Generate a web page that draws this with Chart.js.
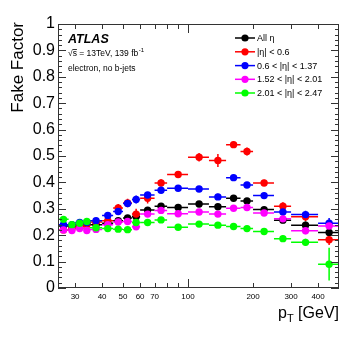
<!DOCTYPE html>
<html lang="en">
<head>
<meta charset="UTF-8">
<title>Fake Factor vs pT</title>
<script src="https://cdn.jsdelivr.net/npm/chart.js"></script>
<style>
  body { margin: 0; background: #fff; }
  #wrap { width: 357px; height: 343px; }
</style>
</head>
<body>
<div id="wrap"><canvas id="ffChart" width="357" height="343"></canvas></div>
<script>
// pT bins [GeV]
const ptCenters = [26.5, 29, 31.5, 34, 37.5, 42.5, 47.5, 52.5, 57.5, 65, 75, 90, 112.5, 137.5, 162.5, 187.5, 225, 275, 350, 450];
const ptLow  = [25, 28, 30, 33, 35, 40, 45, 50, 55, 60, 70, 80, 100, 125, 150, 175, 200, 250, 300, 400];
const ptHigh = [28, 30, 33, 35, 40, 45, 50, 55, 60, 70, 80, 100, 125, 150, 175, 200, 250, 300, 400, 500];

// fake factor per eta region
const ffAll    = [0.235, 0.235, 0.240, 0.243, 0.240, 0.245, 0.255, 0.265, 0.270, 0.295, 0.310, 0.305, 0.318, 0.308, 0.340, 0.330, 0.297, 0.257, 0.238, 0.210];
const ffEta06  = [0.220, 0.225, 0.232, 0.240, 0.250, 0.255, 0.303, 0.322, 0.280, 0.340, 0.398, 0.430, 0.495, 0.483, 0.543, 0.517, 0.398, 0.310, 0.270, 0.183];
const ffEta137 = [0.240, 0.240, 0.248, 0.248, 0.255, 0.275, 0.290, 0.320, 0.335, 0.352, 0.370, 0.378, 0.375, 0.345, 0.418, 0.390, 0.350, 0.288, 0.278, 0.245];
const ffEta201 = [0.220, 0.218, 0.225, 0.218, 0.222, 0.240, 0.250, 0.252, 0.232, 0.280, 0.294, 0.281, 0.288, 0.280, 0.302, 0.305, 0.284, 0.262, 0.217, 0.235];
const ffEta247 = [0.260, 0.240, 0.245, 0.252, 0.228, 0.225, 0.223, 0.221, 0.248, 0.248, 0.258, 0.230, 0.242, 0.238, 0.233, 0.225, 0.214, 0.187, 0.173, 0.090];

// statistical uncertainties
const errAll    = [0.004, 0.004, 0.004, 0.004, 0.004, 0.005, 0.005, 0.006, 0.006, 0.006, 0.006, 0.006, 0.007, 0.008, 0.008, 0.009, 0.009, 0.012, 0.014, 0.020];
const errEta06  = [0.008, 0.008, 0.009, 0.009, 0.010, 0.012, 0.015, 0.016, 0.020, 0.020, 0.014, 0.013, 0.016, 0.025, 0.012, 0.015, 0.012, 0.015, 0.016, 0.020];
const errEta137 = [0.006, 0.006, 0.007, 0.007, 0.008, 0.009, 0.010, 0.012, 0.015, 0.012, 0.010, 0.010, 0.010, 0.012, 0.010, 0.011, 0.011, 0.013, 0.015, 0.020];
const errEta201 = [0.005, 0.005, 0.005, 0.005, 0.006, 0.006, 0.007, 0.007, 0.008, 0.008, 0.008, 0.008, 0.008, 0.009, 0.009, 0.010, 0.010, 0.012, 0.013, 0.018];
const errEta247 = [0.006, 0.006, 0.006, 0.006, 0.006, 0.006, 0.007, 0.007, 0.008, 0.008, 0.008, 0.008, 0.008, 0.009, 0.009, 0.010, 0.010, 0.012, 0.014, 0.062];

const seriesNames  = ['All \u03b7', '|\u03b7| < 0.6', '0.6 < |\u03b7| < 1.37', '1.52 < |\u03b7| < 2.01', '2.01 < |\u03b7| < 2.47'];
const seriesColors = ['#000000', '#ff0000', '#0000ff', '#ff00ff', '#00ff00'];
const seriesValues = [ffAll, ffEta06, ffEta137, ffEta201, ffEta247];
const seriesErrors = [errAll, errEta06, errEta137, errEta201, errEta247];

const xTickLabels = [30, 40, 50, 60, 70, 100, 200, 300, 400];
const xTickMarks  = [30, 40, 50, 60, 70, 80, 90, 100, 200, 300, 400];
const yTickLabels = [0, 0.1, 0.2, 0.3, 0.4, 0.5, 0.6, 0.7, 0.8, 0.9, 1];

const FONT = "'Liberation Sans', Arial, sans-serif";

const datasets = seriesValues.map((vals, i) => ({
  label: seriesNames[i],
  data: vals.map((v, k) => ({ x: ptCenters[k], y: v })),
  errs: seriesErrors[i],
  borderColor: seriesColors[i],
  backgroundColor: seriesColors[i],
  pointRadius: 3.7,
  pointBorderWidth: 0,
  showLine: false,
  order: seriesValues.length - i
}));

// error bars, drawn under the markers
const errorBars = {
  id: 'errorBars',
  beforeDatasetsDraw(chart) {
    const { ctx, scales: { x, y } } = chart;
    ctx.save();
    ctx.lineWidth = 1.5;
    chart.data.datasets.forEach(ds => {
      ctx.strokeStyle = ds.borderColor;
      ds.data.forEach((p, k) => {
        const py = y.getPixelForValue(p.y);
        const px = x.getPixelForValue(p.x);
        ctx.beginPath();
        ctx.moveTo(x.getPixelForValue(ptLow[k]), py);
        ctx.lineTo(x.getPixelForValue(ptHigh[k]), py);
        ctx.moveTo(px, y.getPixelForValue(p.y - ds.errs[k]));
        ctx.lineTo(px, y.getPixelForValue(p.y + ds.errs[k]));
        ctx.stroke();
      });
    });
    ctx.restore();
  }
};

// ROOT-like frame with inward ticks, texts and legend
const decorations = {
  id: 'decorations',
  afterDraw(chart) {
    const { ctx, chartArea: a, scales: { x, y } } = chart;
    ctx.save();
    ctx.strokeStyle = '#333';
    ctx.lineWidth = 1;
    ctx.strokeRect(a.left + 0.5, a.top + 0.5, a.right - a.left - 1, a.bottom - a.top - 1);

    const seg = (x1, y1, x2, y2) => { ctx.beginPath(); ctx.moveTo(x1, y1); ctx.lineTo(x2, y2); ctx.stroke(); };
    for (let k = 0; k <= 50; k++) {
      const py = Math.round(y.getPixelForValue(k * 0.02)) + 0.5;
      const len = k % 5 === 0 ? 8 : 4;
      seg(a.left, py, a.left + len, py);
      seg(a.right, py, a.right - len, py);
    }
    xTickMarks.forEach(v => {
      const px = Math.round(x.getPixelForValue(v)) + 0.5;
      const len = v === 100 ? 9 : 5;
      seg(px, a.bottom, px, a.bottom - len);
      seg(px, a.top, px, a.top + len);
    });

    ctx.fillStyle = '#000';
    // y title
    ctx.save();
    ctx.translate(23, a.top - 2);
    ctx.rotate(-Math.PI / 2);
    ctx.font = '17px ' + FONT;
    ctx.textAlign = 'right';
    ctx.fillText('Fake Factor', 0, 0);
    ctx.restore();

    // x title p_T [GeV]
    ctx.textAlign = 'left';
    ctx.font = '16px ' + FONT;
    const rest = ' [GeV]';
    const wRest = ctx.measureText(rest).width;
    ctx.font = '11px ' + FONT;
    const wT = ctx.measureText('T').width;
    ctx.font = '16px ' + FONT;
    const wP = ctx.measureText('p').width;
    let tx = a.right - wRest - wT - wP;
    ctx.fillText('p', tx, 318);
    ctx.font = '11px ' + FONT;
    ctx.fillText('T', tx + wP, 322);
    ctx.font = '16px ' + FONT;
    ctx.fillText(rest, tx + wP + wT, 318);

    // ATLAS label
    ctx.font = 'italic bold 12.5px ' + FONT;
    ctx.fillText('ATLAS', 68, 43);
    ctx.font = '8.5px ' + FONT;
    ctx.fillText('\u221a', 68, 56);
    const wSq = ctx.measureText('\u221a').width;
    const wS = ctx.measureText('s').width;
    seg(68 + wSq, 49.5, 68 + wSq + wS, 49.5);
    const line1 = 's = 13TeV, 139 fb';
    ctx.fillText(line1, 68 + wSq, 56);
    const w1 = ctx.measureText(line1).width;
    ctx.font = '6px ' + FONT;
    ctx.fillText('-1', 68 + wSq + w1 + 0.5, 52);
    ctx.font = '8.5px ' + FONT;
    ctx.fillText('electron, no b-jets', 68, 71);

    // legend
    const rows = [38, 51.8, 65.6, 79.3, 93];
    ctx.font = '9px ' + FONT;
    ctx.textBaseline = 'middle';
    chart.data.datasets.forEach((ds, i) => {
      const ry = rows[i];
      ctx.strokeStyle = ds.borderColor;
      ctx.lineWidth = 1.5;
      seg(235, ry, 255, ry);
      ctx.fillStyle = ds.borderColor;
      ctx.beginPath();
      ctx.arc(245, ry, 3.6, 0, Math.PI * 2);
      ctx.fill();
      ctx.fillStyle = '#000';
      ctx.fillText(ds.label, 257, ry + 0.5);
    });
    ctx.restore();
  }
};

new Chart(document.getElementById('ffChart'), {
  type: 'scatter',
  data: { datasets },
  plugins: [errorBars, decorations],
  options: {
    responsive: false,
    animation: false,
    layout: { padding: { left: 0, right: 18, top: 24, bottom: 0 } },
    plugins: { legend: { display: false }, tooltip: { enabled: false } },
    scales: {
      x: {
        type: 'logarithmic',
        min: 25,
        max: 500,
        grid: { display: false, drawTicks: false },
        border: { display: false },
        afterBuildTicks: s => { s.ticks = xTickLabels.map(v => ({ value: v })); },
        afterFit: s => { s.height = 55; },
        ticks: {
          autoSkip: false,
          maxRotation: 0,
          padding: 4,
          color: '#000',
          font: { family: FONT, size: 8 },
          callback: v => String(v)
        }
      },
      y: {
        min: 0,
        max: 1,
        grid: { display: false, drawTicks: false },
        border: { display: false },
        afterBuildTicks: s => { s.ticks = yTickLabels.map(v => ({ value: v })); },
        afterFit: s => { s.width = 58; },
        ticks: {
          padding: 3,
          color: '#000',
          font: { family: FONT, size: 16 },
          callback: v => (v === 0 || v === 1) ? String(v) : v.toFixed(1)
        }
      }
    }
  }
});
</script>
</body>
</html>
